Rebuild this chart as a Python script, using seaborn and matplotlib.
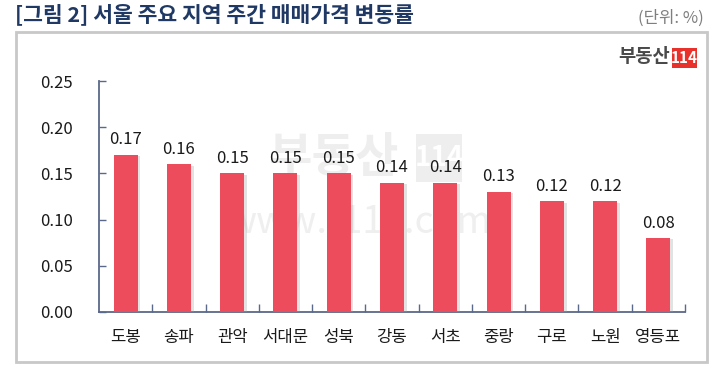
import matplotlib
matplotlib.use("Agg")
import matplotlib.pyplot as plt
import matplotlib.patheffects as pe
from matplotlib.patches import FancyBboxPatch, Rectangle
import seaborn as sns
import pandas as pd

# data
regions = ["도봉", "송파", "관악", "서대문", "성북", "강동", "서초", "중랑", "구로", "노원", "영등포"]
changes = [0.17, 0.16, 0.15, 0.15, 0.15, 0.14, 0.14, 0.13, 0.12, 0.12, 0.08]
y_ticks = [0.00, 0.05, 0.10, 0.15, 0.20, 0.25]

df = pd.DataFrame({"region": regions, "change": changes})

sns.set_style("white")
plt.rcParams["font.family"] = ["Noto Sans CJK KR", "DejaVu Sans"]

fig = plt.figure(figsize=(7.22, 3.69), dpi=100)
W, H = 722, 369

# outer frame
frame = FancyBboxPatch((16 / W, 1 - 362 / H), (707 - 16) / W, (362 - 32) / H,
                       boxstyle="square,pad=0", transform=fig.transFigure,
                       facecolor="white", edgecolor="#c8c8c8", linewidth=2, zorder=-2)
fig.patches.append(frame)

# title and unit
fig.text(15 / W, 1 - 14 / H, "[그림 2] 서울 주요 지역 주간 매매가격 변동률", fontsize=15.5,
         fontweight="bold", color="#1f3864", va="center", ha="left")
fig.text(704 / W, 1 - 18 / H, "(단위: %)", fontsize=12, color="#7f7f7f", va="center", ha="right")

# logo
fig.text(670 / W, 1 - 57 / H, "부동산", fontsize=13.5, fontweight="black", color="#4a4a4a",
         va="center", ha="right")
fig.patches.append(Rectangle((672 / W, 1 - 68 / H), 25 / W, 20 / H, transform=fig.transFigure,
                             facecolor="#e8312a", edgecolor="none", zorder=2))
fig.text(684.5 / W, 1 - 58 / H, "114", fontsize=11, fontweight="bold", color="white",
         va="center", ha="center", zorder=3)

# watermark (behind the chart)
fig.text(333 / W, 1 - 158 / H, "부동산", fontsize=34, fontweight="bold", color="#eeeeee",
         va="center", ha="center", zorder=-1)
fig.patches.append(Rectangle((416 / W, 1 - 182 / H), 46 / W, 48 / H, transform=fig.transFigure,
                             facecolor="#eeeeee", edgecolor="none", zorder=-1))
fig.text(439 / W, 1 - 158 / H, "114", fontsize=20, fontweight="bold", color="white",
         va="center", ha="center", zorder=-0.9)
fig.text(360 / W, 1 - 222 / H, "www.r114.com", fontsize=27, color="#efefef",
         va="center", ha="center", zorder=-1)

ax = fig.add_axes([99 / W, 1 - 312 / H, (685 - 99) / W, (312 - 81) / H])
ax.set_zorder(1)
ax.patch.set_alpha(0)

sns.barplot(data=df, x="region", y="change", color="#ec4c5b", saturation=1, width=0.45, ax=ax,
            zorder=3)
for bar in ax.patches:
    bar.set_path_effects([pe.SimplePatchShadow(offset=(2, -1), shadow_rgbFace="#a0a0a0", alpha=0.3),
                          pe.Normal()])
    bar.set_edgecolor("none")

for i, v in enumerate(changes):
    ax.text(i, v + 0.007, f"{v:.2f}", ha="center", va="bottom", fontsize=12, color="#1a1a1a")

ax.set_ylim(0, 0.25)
ax.set_xlim(-0.5, len(regions) - 0.5)
ax.set_yticks(y_ticks)
ax.set_yticklabels([f"{t:.2f}" for t in y_ticks])
ax.set_xlabel("")
ax.set_ylabel("")

spine_col = "#5a6889"
for s in ["top", "right"]:
    ax.spines[s].set_visible(False)
for s in ["left", "bottom"]:
    ax.spines[s].set_color(spine_col)
    ax.spines[s].set_linewidth(1.3)

ax.tick_params(axis="y", direction="in", length=5, color=spine_col, width=1,
               labelsize=12, labelcolor="#1a1a1a", pad=19, left=True)
ax.tick_params(axis="x", length=0, labelsize=12, labelcolor="#1a1a1a", pad=12)
# boundaries between categories
ax.set_xticks([i + 0.5 for i in range(len(regions))], minor=True)
ax.tick_params(axis="x", which="minor", direction="in", length=6, color=spine_col, width=1, bottom=True)

fig.savefig("out.png", dpi=100)
